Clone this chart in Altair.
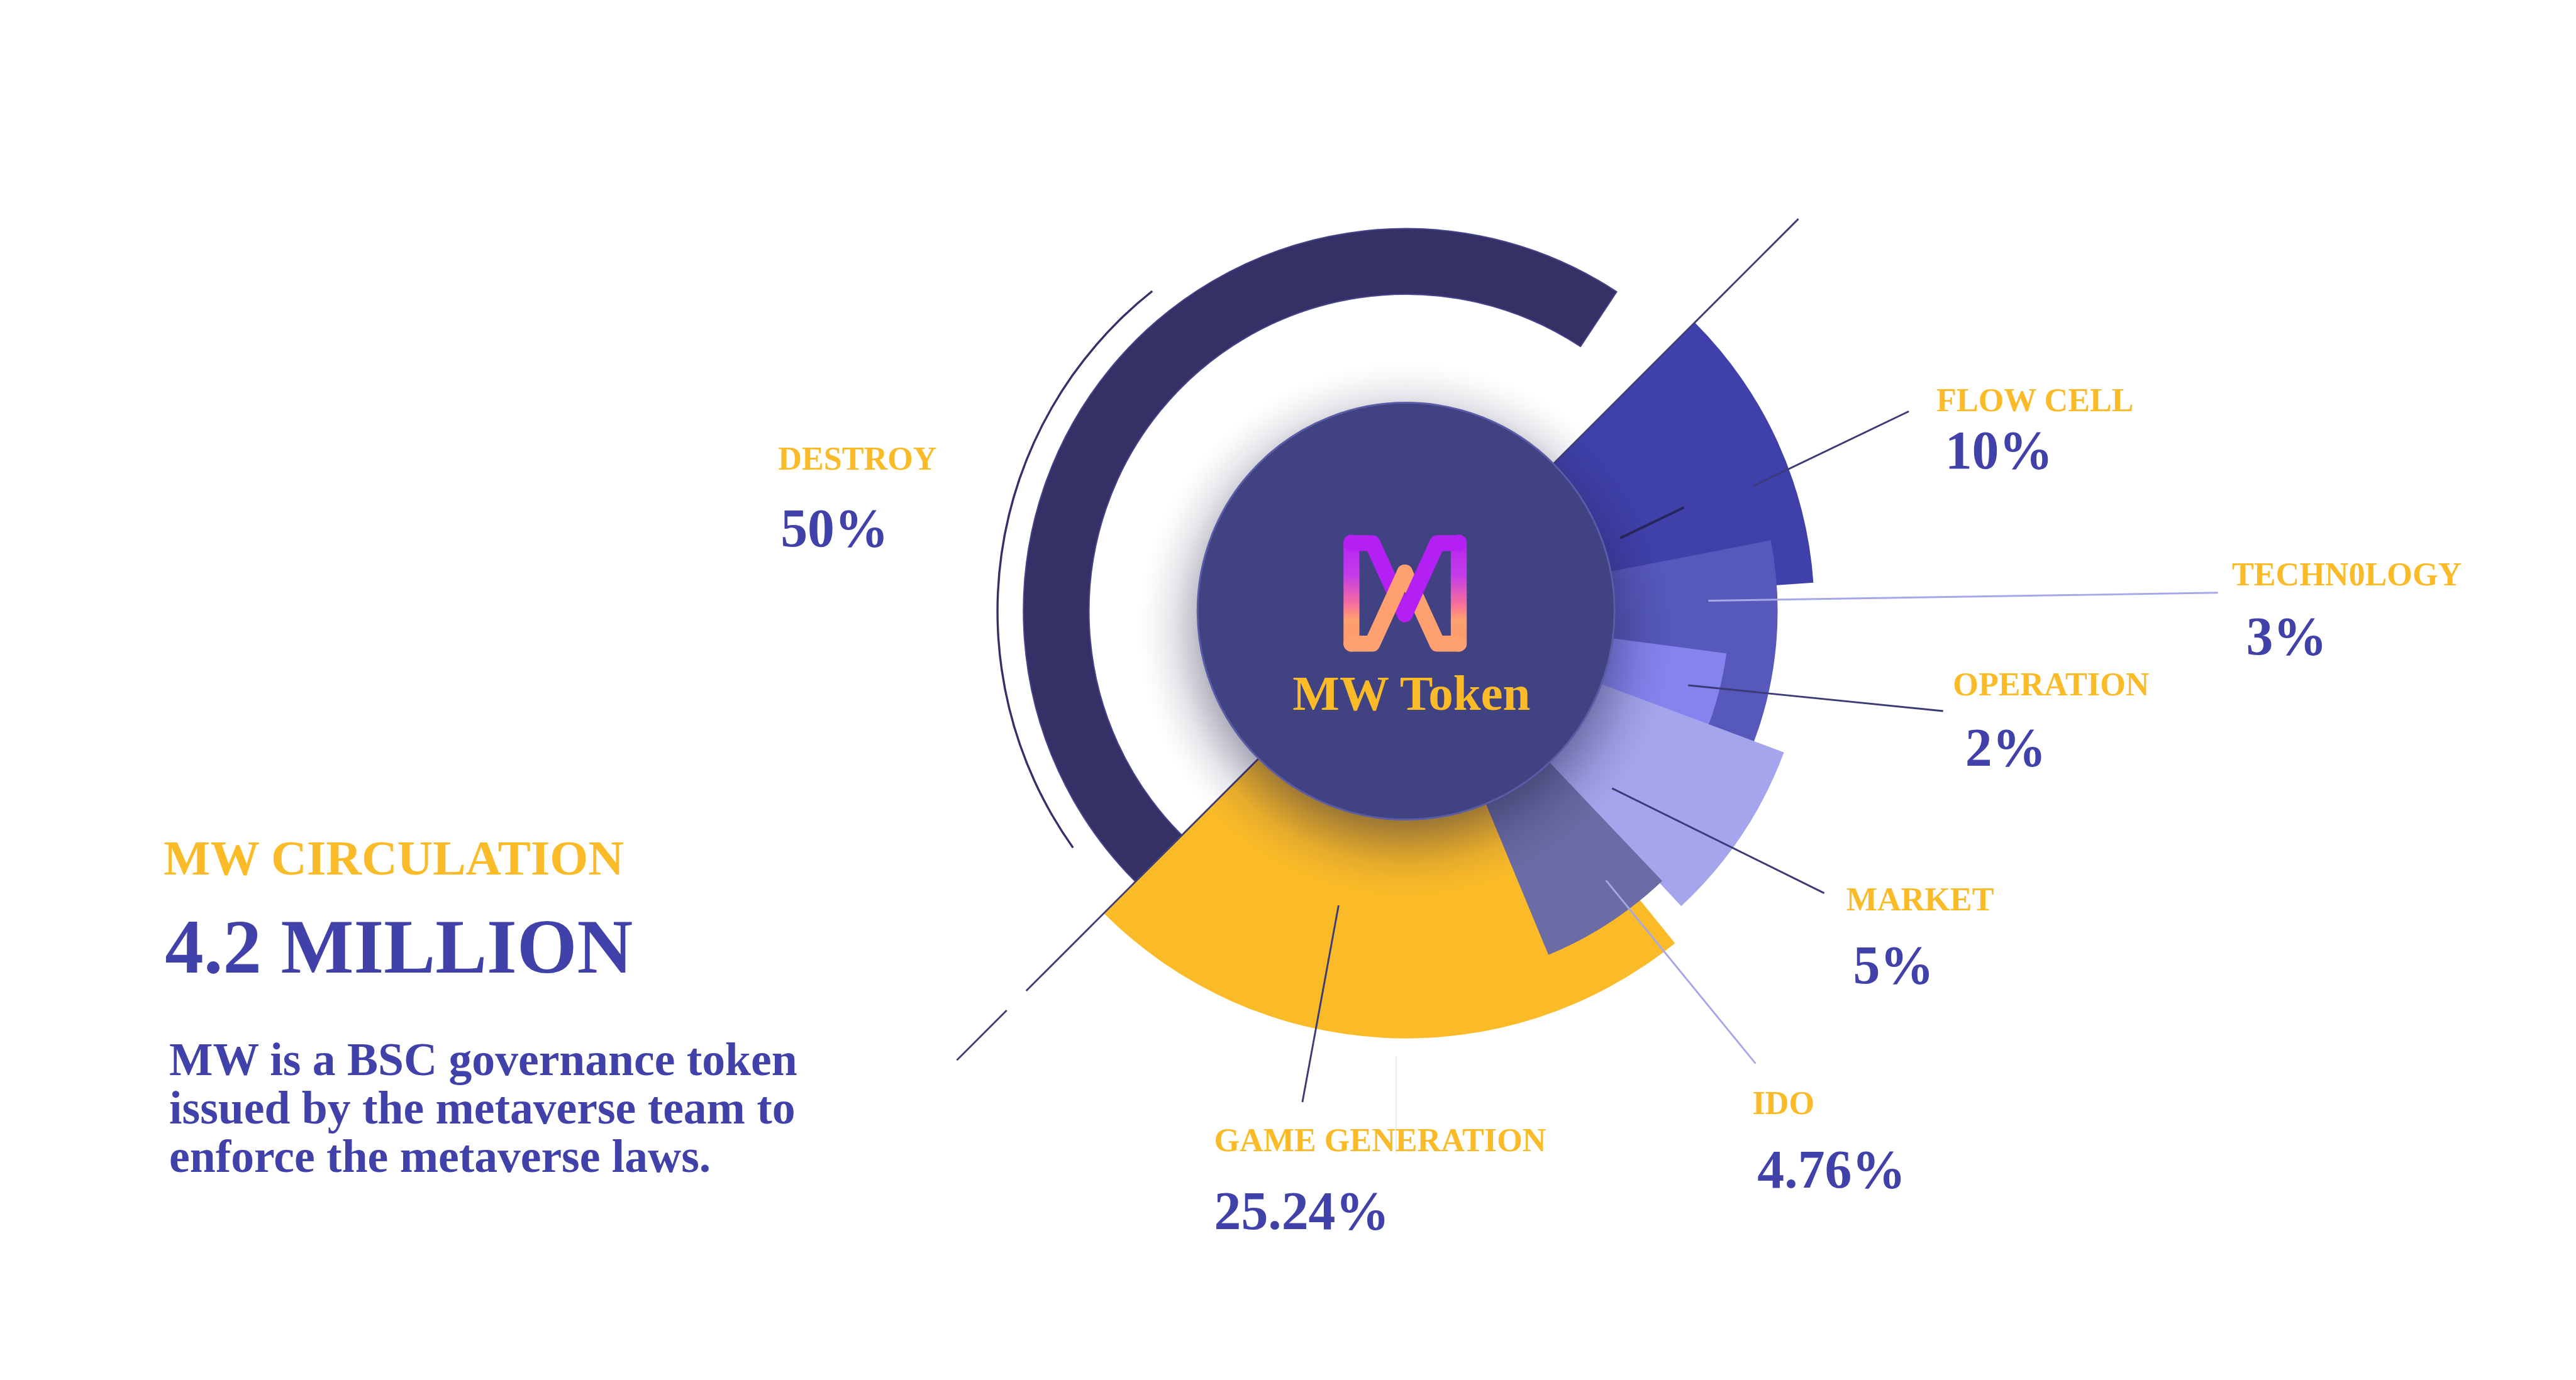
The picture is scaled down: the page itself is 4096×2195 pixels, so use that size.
import math
import altair as alt
import pandas as pd

S = 0.975                      # drawing scale relative to the reference
REF_W, REF_H = 4199, 2250
W, H = REF_W * S, REF_H * S

# ------------------------------------------------------------------ data
categories = ["DESTROY", "FLOW CELL", "TECHN0LOGY", "OPERATION", "MARKET", "IDO", "GAME GENERATION"]
shares = [50, 10, 3, 2, 5, 4.76, 25.24]
# wedge extent (degrees clockwise from 12 o'clock, radius in ref px)
theta_start = [225, 45, 79, 97.5, 110.5, 136.5, 141]
theta_end = [393.4, 86, 112, 112, 137, 157.5, 225]
radius_outer = [624, 666, 606, 527, 658, 607, 697]
radius_inner = [517, 0, 0, 0, 0, 0, 0]

title_top = "MW CIRCULATION"
title_big = "4.2 MILLION"
description = ["MW is a BSC governance token",
               "issued by the metaverse team to",
               "enforce the metaverse laws."]
center_text = "MW Token"

# ------------------------------------------------------------------ layout / style
CX, CY, R_CENTER = 2293, 997, 340
draw_order = ["GAME GENERATION", "FLOW CELL", "TECHN0LOGY", "OPERATION", "MARKET", "IDO", "DESTROY"]
COLORS = {"DESTROY": "#353166", "FLOW CELL": "#3f40a9", "TECHN0LOGY": "#5658bb",
          "OPERATION": "#8584ef", "MARKET": "#a4a5ec", "IDO": "#6b6ba5",
          "GAME GENERATION": "#fbbb28"}
YELLOW = "#fbbb28"
BLUE = "#4041a9"
FONT = "Liberation Serif"

label_pos = {  # (label x, label baseline, value x, value baseline)
    "DESTROY": (1269, 766, 1273, 891),
    "FLOW CELL": (3158, 671, 3172, 764),
    "TECHN0LOGY": (3640, 955, 3663, 1068),
    "OPERATION": (3185, 1134, 3205, 1249),
    "MARKET": (3011, 1485, 3022, 1604),
    "IDO": (2858, 1817, 2866, 1937),
    "GAME GENERATION": (1980, 1878, 1980, 2005),
}

xs = alt.Scale(domain=[0, REF_W], range=[0, W], nice=False, zero=False)
ys = alt.Scale(domain=[0, REF_H], range=[0, H], nice=False, zero=False)
ts = alt.Scale(domain=[0, 360], range=[0, 2 * math.pi], nice=False)
rs = alt.Scale(type="linear", domain=[0, 1000], range=[0, 1000 * S], nice=False)

X = lambda f: alt.X(f, type="quantitative", scale=xs, axis=None)
Y = lambda f: alt.Y(f, type="quantitative", scale=ys, axis=None)

wedges = pd.DataFrame({"name": categories, "share": shares, "t0": theta_start, "t1": theta_end,
                       "r1": radius_outer, "r0": radius_inner})
wedges["cx"] = CX
wedges["cy"] = CY


def arc_enc(ch):
    return ch.encode(
        x=X("cx"), y=Y("cy"),
        theta=alt.Theta("t0:Q", scale=ts, stack=None), theta2="t1:Q",
        radius=alt.Radius("r1:Q", scale=rs), radius2="r0:Q",
    )


layers = []
# thin outer arc on the left
thin = pd.DataFrame({"cx": [CX], "cy": [CY], "t0": [234.6], "t1": [321.6], "r0": [664.5], "r1": [668]})
layers.append(arc_enc(alt.Chart(thin).mark_arc(color="#35306a")))

for n in draw_order:
    extra = {}
    if n == "DESTROY":
        extra = dict(stroke="#46458a", strokeWidth=2 * S)
    layers.append(arc_enc(alt.Chart(wedges).transform_filter(alt.datum.name == n)
                          .mark_arc(color=COLORS[n], **extra)))

# diagonal guide lines (angle, r from, r to)
diag_angle = [45, 225, 225]
diag_r0 = [340, 340, 921]
diag_r1 = [905, 876, 1036]
diag = pd.DataFrame({
    "x1": [CX + a * math.sin(math.radians(t)) for t, a in zip(diag_angle, diag_r0)],
    "y1": [CY - a * math.cos(math.radians(t)) for t, a in zip(diag_angle, diag_r0)],
    "x2": [CX + b * math.sin(math.radians(t)) for t, b in zip(diag_angle, diag_r1)],
    "y2": [CY - b * math.cos(math.radians(t)) for t, b in zip(diag_angle, diag_r1)],
})
layers.append(alt.Chart(diag).mark_rule(color="#3f3d78", strokeWidth=3 * S)
              .encode(x=X("x1"), y=Y("y1"), x2="x2:Q", y2="y2:Q"))

# leader lines
leaders = pd.DataFrame({
    "kind": ["inner", "dark", "light", "dark", "dark", "light", "dark", "faint"],
    "x1": [2642, 2859, 2786, 2753, 2629, 2619, 2183, 2277],
    "y1": [878, 793, 980, 1118, 1286, 1436, 1477, 1723],
    "x2": [2746, 3113, 3617, 3169, 2975, 2863, 2124, 2277],
    "y2": [828, 671, 967, 1160, 1457, 1735, 1798, 1882],
})
LEADER_COL = {"inner": "#27255a", "dark": "#3d3b75", "light": "#a6a7e8", "faint": "#efeff7"}
for k, c in LEADER_COL.items():
    layers.append(alt.Chart(leaders).transform_filter(alt.datum.kind == k)
                  .mark_rule(color=c, strokeWidth=(4 if k == "inner" else 3) * S)
                  .encode(x=X("x1"), y=Y("y1"), x2="x2:Q", y2="y2:Q"))

# soft drop shadow of the centre disc
shadow = pd.DataFrame({"cx": [CX], "cy": [CY + 30], "t0": [0], "t1": [360], "r0": [0], "r1": [435]})
sc = "30,28,70"
shadow_fill = alt.RadialGradient(
    gradient="radial", x1=0.5, y1=0.5, r1=0, x2=0.5, y2=0.5, r2=0.5,
    stops=[alt.GradientStop(color=f"rgba({sc},0.45)", offset=0),
           alt.GradientStop(color=f"rgba({sc},0.42)", offset=0.72),
           alt.GradientStop(color=f"rgba({sc},0.25)", offset=0.80),
           alt.GradientStop(color=f"rgba({sc},0.10)", offset=0.88),
           alt.GradientStop(color=f"rgba({sc},0.03)", offset=0.95),
           alt.GradientStop(color=f"rgba({sc},0)", offset=1)])
layers.append(arc_enc(alt.Chart(shadow).mark_arc(fill=shadow_fill)))

# centre disc
disc = pd.DataFrame({"cx": [CX], "cy": [CY], "t0": [0], "t1": [360], "r0": [0], "r1": [R_CENTER]})
layers.append(arc_enc(alt.Chart(disc).mark_arc(color="#414282", stroke="#5a5ca8", strokeWidth=3 * S)))

# logo: two gradient uprights and four interlaced diagonal strands
uprights = pd.DataFrame({"x0": [2191, 2366], "x1": [2217, 2392], "y0": [872, 872], "y1": [1063, 1063]})
up_fill = alt.LinearGradient(
    gradient="linear", x1=0, y1=0, x2=0, y2=1,
    stops=[alt.GradientStop(color="#b41ff3", offset=0),
           alt.GradientStop(color="#c43ce8", offset=0.35),
           alt.GradientStop(color="#f8709a", offset=0.6),
           alt.GradientStop(color="#ffa070", offset=0.72),
           alt.GradientStop(color="#f99868", offset=1)])
layers.append(alt.Chart(uprights).mark_rect(fill=up_fill, cornerRadius=13 * S)
              .encode(x=X("x0"), x2="x1:Q", y=Y("y0"), y2="y1:Q"))

logo_part = ["pl", "pl", "pl", "or", "or", "or", "pr", "pr", "pr", "ol", "ol", "ol"]
logo_x = [2204, 2238, 2291, 2379, 2344, 2291, 2291, 2344, 2379, 2291, 2238, 2204]
logo_y = [886, 886, 1002, 1050, 1050, 934, 1002, 886, 886, 934, 1050, 1050]
logo = pd.DataFrame({"part": logo_part, "x": logo_x, "y": logo_y, "i": range(len(logo_x))})
LOGO_COL = {"pl": "#b41ff3", "or": "#ffa070", "pr": "#b41ff3", "ol": "#ffa070"}
for p, c in LOGO_COL.items():
    layers.append(alt.Chart(logo).transform_filter(alt.datum.part == p)
                  .mark_line(color=c, strokeWidth=26 * S, strokeCap="round", strokeJoin="round")
                  .encode(x=X("x"), y=Y("y"), order="i:Q"))

# texts
txt = pd.DataFrame({
    "name": categories,
    "value": [f"{v:g}%" for v in shares],
    "lx": [label_pos[c][0] for c in categories], "ly": [label_pos[c][1] for c in categories],
    "vx": [label_pos[c][2] for c in categories], "vy": [label_pos[c][3] for c in categories],
})
layers.append(alt.Chart(txt).mark_text(align="left", baseline="alphabetic", font=FONT, fontWeight="bold",
                                       fontSize=53.5 * S, color=YELLOW)
              .encode(x=X("lx"), y=Y("ly"), text="name:N"))
layers.append(alt.Chart(txt).mark_text(align="left", baseline="alphabetic", font=FONT, fontWeight="bold",
                                       fontSize=88 * S, color=BLUE)
              .encode(x=X("vx"), y=Y("vy"), text="value:N"))

center_df = pd.DataFrame({"t": [center_text], "x": [2302], "y": [1158]})
layers.append(alt.Chart(center_df).mark_text(align="center", baseline="alphabetic", font=FONT,
                                             fontWeight="bold", fontSize=81 * S, color=YELLOW)
              .encode(x=X("x"), y=Y("y"), text="t:N"))

side = pd.DataFrame({"t": [title_top], "x": [267], "y": [1427]})
layers.append(alt.Chart(side).mark_text(align="left", baseline="alphabetic", font=FONT, fontWeight="bold",
                                        fontSize=80.5 * S, color=YELLOW)
              .encode(x=X("x"), y=Y("y"), text="t:N"))
big = pd.DataFrame({"t": [title_big], "x": [269], "y": [1587]})
layers.append(alt.Chart(big).mark_text(align="left", baseline="alphabetic", font=FONT, fontWeight="bold",
                                       fontSize=126 * S, color=BLUE)
              .encode(x=X("x"), y=Y("y"), text="t:N"))
desc = pd.DataFrame({"t": description, "x": [276] * 3, "y": [1754, 1833, 1912]})
layers.append(alt.Chart(desc).mark_text(align="left", baseline="alphabetic", font=FONT, fontWeight="bold",
                                        fontSize=75.5 * S, color=BLUE)
              .encode(x=X("x"), y=Y("y"), text="t:N"))

chart = (alt.layer(*layers)
         .properties(width=W, height=H, autosize=alt.AutoSizeParams(type="none"), padding=0,
                     background="white")
         .configure_view(stroke=None))

chart.save("out.html", embed_options={"renderer": "svg", "actions": False})
